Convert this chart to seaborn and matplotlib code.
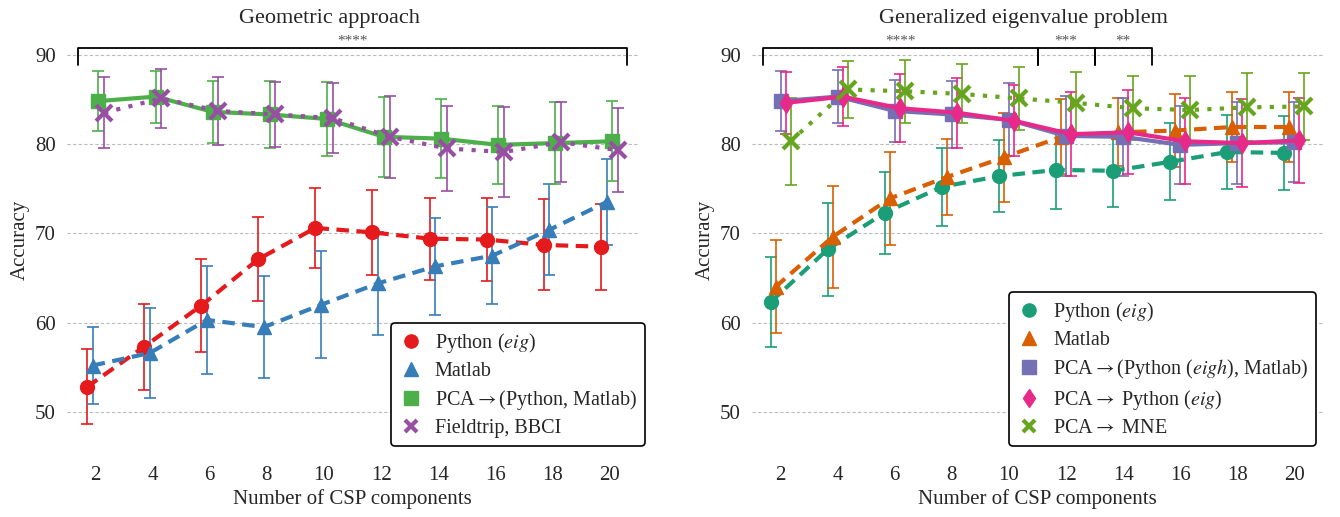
import pandas as pd
import matplotlib.pyplot as plt
from matplotlib.lines import Line2D
import seaborn as sns

sns.set_theme(style="whitegrid")
plt.rcParams['font.family'] = ['Liberation Serif', 'DejaVu Serif']
plt.rcParams['mathtext.fontset'] = 'stix'

# number of CSP components
n_comp = [2, 4, 6, 8, 10, 12, 14, 16, 18, 20]

# left panel: geometric approach (mean accuracy, std)
geo_py_eig = [52.8, 57.3, 61.9, 67.1, 70.6, 70.1, 69.4, 69.3, 68.7, 68.5]
geo_py_eig_sd = [4.2, 4.8, 5.2, 4.7, 4.5, 4.8, 4.6, 4.6, 5.1, 4.8]
geo_matlab = [55.2, 56.6, 60.3, 59.5, 62.0, 64.4, 66.3, 67.5, 70.4, 73.5]
geo_matlab_sd = [4.3, 5.0, 6.0, 5.7, 6.0, 5.8, 5.4, 5.4, 5.1, 4.8]
geo_pca = [84.8, 85.3, 83.6, 83.3, 82.8, 80.8, 80.6, 79.9, 80.1, 80.3]
geo_pca_sd = [3.4, 2.9, 3.5, 3.8, 4.1, 4.5, 4.4, 4.4, 4.6, 4.5]
geo_fieldtrip = [83.5, 85.1, 83.7, 83.3, 82.9, 80.8, 79.5, 79.1, 80.2, 79.3]
geo_fieldtrip_sd = [4.0, 3.3, 3.8, 3.6, 3.9, 4.6, 4.8, 5.0, 4.5, 4.7]

# right panel: generalized eigenvalue problem
gev_py_eig = [62.3, 68.2, 72.3, 75.2, 76.4, 77.1, 77.0, 78.0, 79.1, 79.0]
gev_py_eig_sd = [5.0, 5.2, 4.6, 4.4, 4.0, 4.4, 4.0, 4.3, 4.1, 4.1]
gev_matlab = [64.0, 69.6, 73.9, 76.3, 78.5, 80.8, 81.3, 81.5, 81.9, 81.9]
gev_matlab_sd = [5.2, 5.7, 5.2, 4.3, 5.0, 4.2, 3.8, 4.1, 3.9, 3.9]
gev_pca = [84.8, 85.3, 83.7, 83.3, 82.7, 80.9, 80.8, 79.9, 80.1, 80.2]
gev_pca_sd = [3.4, 3.0, 3.5, 3.8, 4.1, 4.5, 4.4, 4.4, 4.6, 4.5]
gev_pca_eig = [84.6, 85.3, 84.0, 83.5, 82.6, 81.1, 81.3, 80.3, 80.1, 80.4]
gev_pca_eig_sd = [3.5, 3.3, 3.8, 3.9, 4.0, 4.7, 4.7, 4.8, 4.9, 4.8]
gev_mne = [80.3, 86.1, 85.9, 85.6, 85.1, 84.6, 84.0, 83.8, 84.1, 84.2]
gev_mne_sd = [4.9, 3.2, 3.5, 3.3, 3.5, 3.5, 3.6, 3.8, 3.8, 3.8]

# significance brackets (x from, x to, label)
geo_sig = [(1.4, 20.6, '****')]
gev_sig = [(1.4, 11.0, '****'), (11.0, 13.0, '***'), (13.0, 15.0, '**')]

eig = r'$\mathit{eig}$'
eigh = r'$\mathit{eigh}$'
arr = r'$\rightarrow$'

set1 = sns.color_palette("Set1")
dark2 = sns.color_palette("Dark2")

# (label, mean, sd, color, marker, linestyle)
geo_series = [
    ('Python (' + eig + ')', geo_py_eig, geo_py_eig_sd, set1[0], 'o', (0, (3, 1.8))),
    ('Matlab', geo_matlab, geo_matlab_sd, set1[1], '^', (0, (3, 1.8))),
    ('PCA' + arr + '(Python, Matlab)', geo_pca, geo_pca_sd, set1[2], 's', '-'),
    ('Fieldtrip, BBCI', geo_fieldtrip, geo_fieldtrip_sd, set1[3], 'x', (0, (1, 2))),
]
gev_series = [
    ('Python (' + eig + ')', gev_py_eig, gev_py_eig_sd, dark2[0], 'o', (0, (3, 1.8))),
    ('Matlab', gev_matlab, gev_matlab_sd, dark2[1], '^', (0, (3, 1.8))),
    ('PCA' + arr + '(Python (' + eigh + '), Matlab)', gev_pca, gev_pca_sd, dark2[2], 's', '-'),
    ('PCA' + arr + ' Python (' + eig + ')', gev_pca_eig, gev_pca_eig_sd, dark2[3], 'd', '-'),
    ('PCA' + arr + ' MNE', gev_mne, gev_mne_sd, dark2[4], 'x', (0, (1, 2))),
]


def draw_panel(ax, series, spacing, sig, title, title_x, legend_anchor):
    k = len(series)
    handles = []
    for i, (label, mean, sd, color, marker, ls) in enumerate(series):
        off = (i - (k - 1) / 2) * spacing
        df = pd.DataFrame({'x': [n + off for n in n_comp], 'acc': mean, 'sd': sd})
        ax.errorbar(df['x'], df['acc'], yerr=df['sd'], fmt='none', ecolor=color,
                    elinewidth=1.2, capsize=4.5, capthick=1.2, zorder=2)
        mew = 3 if marker == 'x' else 1
        ms = 11 if marker == 'x' else 10
        sns.lineplot(data=df, x='x', y='acc', ax=ax, color=color, marker=marker,
                     markersize=ms, markeredgewidth=mew, markeredgecolor=color,
                     linewidth=3, zorder=3)
        ax.lines[-1].set_linestyle(ls)
        handles.append(Line2D([], [], color=color, marker=marker, linestyle='none',
                              markersize=8 if marker == 'x' else 9.5,
                              markeredgewidth=mew, label=label))

    # significance brackets
    for x0, x1, txt in sig:
        ax.plot([x0, x0, x1, x1], [88.8, 90.7, 90.7, 88.8], color='black', lw=1.3,
                zorder=4, clip_on=False)
        ax.text((x0 + x1) / 2, 90.85, txt, ha='center', va='bottom', fontsize=11,
                color='#555555')

    ax.set_xlim(1, 21)
    ax.set_ylim(46.3, 92.2)
    ax.set_xticks(n_comp)
    ax.set_yticks([50, 60, 70, 80, 90])
    ax.grid(axis='x', visible=False)
    ax.grid(axis='y', color='#bbbbbb', linestyle=(0, (3, 2)), linewidth=0.8)
    for s in ax.spines.values():
        s.set_visible(False)
    ax.tick_params(axis='both', labelsize=15, length=0, pad=8)
    ax.tick_params(axis='x', pad=15)
    ax.set_xlabel('Number of CSP components', fontsize=15, labelpad=3)
    ax.set_ylabel('Accuracy', fontsize=15, labelpad=4)
    ax.set_title(title, fontsize=16, pad=9, x=title_x)

    leg = ax.legend(handles=handles, loc='lower right', bbox_to_anchor=legend_anchor,
                    fontsize=14.5, frameon=True, fancybox=True, handletextpad=0.6,
                    labelspacing=0.35, borderpad=0.4, handlelength=1.2)
    leg.get_frame().set_edgecolor('black')
    leg.get_frame().set_linewidth(1.2)
    leg.get_frame().set_alpha(1)


fig = plt.figure(figsize=(13.4, 5.17), dpi=100)
ax1 = fig.add_axes([67 / 1340, 72 / 517, 571 / 1340, 410 / 517])
ax2 = fig.add_axes([752 / 1340, 72 / 517, 571 / 1340, 410 / 517])

draw_panel(ax1, geo_series, 0.2, geo_sig, 'Geometric approach', 0.46,
           (1.03, -0.027))
draw_panel(ax2, gev_series, 0.175, gev_sig, 'Generalized eigenvalue problem', 0.475,
           (1.006, -0.027))

fig.savefig('out.png', dpi=100)
